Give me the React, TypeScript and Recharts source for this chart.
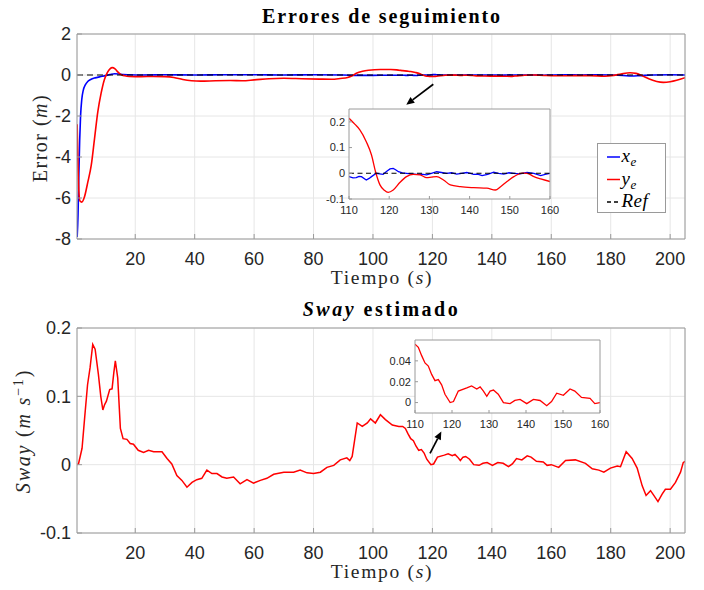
import React from 'react';
import { LineChart, Line, XAxis, YAxis, CartesianGrid, ReferenceLine, Legend } from 'recharts';

type P = [number, number];

// ---------- tick labels ----------
const timeTicks = [20, 40, 60, 80, 100, 120, 140, 160, 180, 200];
const errorTicks = [-8, -6, -4, -2, 0, 2];
const swayTicks = [-0.1, 0, 0.1, 0.2];
const insetTimeTicks = [110, 120, 130, 140, 150, 160];
const insetErrorTicks = [-0.1, 0, 0.1, 0.2];
const insetSwayTicks = [0, 0.02, 0.04];

// ---------- series: x_e (blue) ----------
const xeSeries: P[] = [
  [0.45, -7.9], [0.75, -6.8], [1.0, -5.0], [1.3, -3.2], [1.6, -2.0], [2.0, -1.2], [2.5, -0.75], [3.2, -0.48],
  [4, -0.32], [5, -0.22], [6.5, -0.14], [8, -0.09], [10, -0.03], [11.5, 0.02], [13, 0.06], [14.5, 0.05],
  [16, 0.02], [18, 0.01], [22, 0], [30, 0.01], [40, 0], [50, 0.01], [60, 0.01], [70, 0], [80, 0.01], [90, 0],
  [95, -0.02], [100, -0.02], [105, -0.01],
  [110, -0.013], [111, -0.018], [111.8, -0.017], [112.5, -0.012], [113.1, -0.013], [114.3, -0.026], [115, -0.02],
  [115.6, -0.013], [116.8, 0], [117.6, -0.002], [118.5, -0.004], [119.4, 0.008], [120.2, 0.017], [121, 0.019],
  [121.6, 0.014], [122.3, 0.006], [123.3, 0.002], [124.3, 0], [125.5, -0.002], [126.8, -0.004], [128, -0.003],
  [129.3, -0.006], [130.5, 0], [131.8, 0.006], [133, 0.003], [134.3, 0], [135.5, 0.002], [136.8, -0.003],
  [138, 0], [139.3, 0.003], [140.2, 0], [141, -0.004], [142, -0.003], [143.1, -0.009], [144.5, -0.004],
  [146, 0.004], [147.2, 0], [148.5, -0.003], [149.8, 0.002], [151, 0], [152.5, -0.002], [154.3, 0.003],
  [156, 0], [157.7, -0.009], [158.8, -0.004], [160, 0],
  [165, 0.01], [170, 0], [175, 0.01], [180, 0], [184, -0.02], [187, -0.05], [190, -0.03], [194, 0], [200, 0.01], [205, 0],
];

// ---------- series: y_e (red) ----------
const yeSeries: P[] = [
  [0.45, -2.4], [0.7, -4.2], [1.0, -5.6], [1.4, -6.15], [2.0, -6.2], [2.9, -5.95], [4.0, -5.25], [5.2, -4.4],
  [6.3, -3.1], [7.4, -1.8], [8.5, -0.9], [9.6, -0.23], [10.6, 0.12], [11.5, 0.3], [12.3, 0.36], [13.2, 0.3],
  [14.2, 0.14], [15.2, 0.02], [16.5, -0.04], [18, -0.07], [22, -0.08], [26, -0.07], [30, -0.08], [33, -0.12],
  [36, -0.22], [39, -0.28], [42, -0.3], [47, -0.28], [52, -0.27], [56, -0.28], [60, -0.24], [65, -0.18],
  [70, -0.16], [76, -0.18], [82, -0.2], [86, -0.21], [89, -0.17], [91.5, -0.12], [93, -0.04], [94.6, 0.1],
  [96.5, 0.18], [98.5, 0.23], [102.5, 0.27], [106, 0.27], [108.5, 0.24],
  [110, 0.214], [111.5, 0.19], [112.7, 0.169], [114.3, 0.123], [115.6, 0.071], [116.6, 0.006], [117.7, -0.045],
  [118.8, -0.066], [119.75, -0.074], [121, -0.065], [122.7, -0.035], [124.3, -0.013], [126, -0.004],
  [127.7, -0.006], [129.3, -0.017], [130.5, -0.015], [131.8, -0.013], [133.5, -0.026], [135.2, -0.045],
  [137.7, -0.052], [141, -0.056], [144.3, -0.058], [146.4, -0.065], [147.7, -0.052], [149.3, -0.032],
  [151, -0.013], [153.1, 0.001], [154.3, 0], [156, -0.013], [157.7, -0.022], [160, -0.032],
  [163, -0.04], [168, -0.03], [173, -0.03], [178, -0.06], [181, -0.02], [183.5, 0.05], [186.5, 0.11],
  [188.5, 0.08], [190.5, -0.03], [193, -0.2], [195.5, -0.32], [197.7, -0.36], [200, -0.33], [202.2, -0.26], [205, -0.13],
];

// ---------- series: estimated sway ----------
const swaySeries: P[] = [
  [0.4, 0], [0.9, 0.001], [2.1, 0.024], [3, 0.07], [3.95, 0.117], [4.8, 0.142], [5.7, 0.176], [6.5, 0.169],
  [7.6, 0.132], [8.4, 0.1], [9.1, 0.08], [9.7, 0.088], [10.3, 0.093], [11.4, 0.11], [12.2, 0.111], [12.8, 0.135],
  [13.3, 0.152], [14.1, 0.127], [15, 0.053], [15.9, 0.038], [17.2, 0.037], [18.3, 0.031], [19.4, 0.03],
  [21, 0.021], [22.8, 0.018], [24.5, 0.021], [26.2, 0.019], [27.9, 0.019], [29, 0.019], [30.7, 0.009],
  [32.3, 0.001], [34, -0.016], [35.7, -0.023], [37.4, -0.033], [39.1, -0.026], [40.7, -0.022], [42.4, -0.02],
  [44.1, -0.008], [45.8, -0.013], [47.5, -0.013], [49.2, -0.018], [50.8, -0.02], [53.1, -0.018], [55.3, -0.028],
  [57.6, -0.022], [59.8, -0.027], [62.1, -0.023], [64.3, -0.02], [66.6, -0.014], [70, -0.011], [73.3, -0.011],
  [75.5, -0.008], [77.8, -0.012], [80, -0.013], [82.3, -0.011], [84.5, -0.004], [86.8, -0.001], [89, 0.007],
  [91.2, 0.01], [92.2, 0.006], [93, 0.012], [94.7, 0.061], [96.4, 0.056], [98.1, 0.061], [99.2, 0.067],
  [100.8, 0.061], [102.5, 0.073], [104.2, 0.066], [106.5, 0.058], [108.7, 0.056],
  [110, 0.056], [110.9, 0.053], [111.8, 0.045], [112.7, 0.038], [113.6, 0.035], [114.5, 0.027], [115.4, 0.021],
  [116.3, 0.022], [117.2, 0.017], [118.1, 0.008], [119.5, 0], [120.4, 0.001], [121.7, 0.011], [124, 0.014],
  [125.3, 0.016], [126.7, 0.013], [127.6, 0.015], [128.5, 0.011], [129.4, 0.006], [130.3, 0.011], [131.2, 0.012],
  [132.5, 0.008], [133.9, 0], [135.7, -0.001], [137, 0.002], [138.4, 0.003], [140.2, -0.001], [142, 0.003],
  [143.8, 0.002], [145.6, -0.003], [146.9, 0.001], [148.3, 0.009], [150.1, 0.007], [151.9, 0.013], [153.2, 0.011],
  [155, 0.005], [157.3, 0.004], [158.6, -0.001], [160, 0],
  [162.5, -0.004], [164.8, 0.006], [168.1, 0.007], [171.5, 0.002], [173.8, -0.006], [176, -0.008], [177.7, -0.011],
  [179.9, -0.005], [182.2, -0.002], [183.3, -0.003], [185.2, 0.019], [187.2, 0.009], [188.9, -0.005],
  [190.6, -0.031], [191.9, -0.045], [193.4, -0.038], [194.5, -0.045], [195.9, -0.054], [197.3, -0.043],
  [198.4, -0.036], [200.1, -0.036], [201.8, -0.026], [203.5, -0.011], [204.4, 0.003], [205, 0.005],
];

// ---------- annotation arrows (data coordinates) ----------
const arrowTop: P[] = [[120.3, -0.45], [111.2, -1.45]];
const arrowBottom: P[] = [[119.2, 0.0165], [123.0, 0.0486]];

const legendItems = [
  { base: 'x', sub: 'e', color: '#0000ff', dash: undefined as string | undefined },
  { base: 'y', sub: 'e', color: '#ff0000', dash: undefined as string | undefined },
  { base: 'Ref', sub: '', color: '#000000', dash: '4 3' },
];

const timeDomain: [number, number] = [0.4, 205];

const toRows = (s: P[]) => s.map(([t, v]) => ({ t, v }));
const inWindow = (s: P[]) => toRows(s.filter(([t]) => t >= 110 && t <= 160));

const xeData = toRows(xeSeries);
const yeData = toRows(yeSeries);
const swayData = toRows(swaySeries);
const xeInset = inWindow(xeSeries);
const yeInset = inWindow(yeSeries);
const swayInset = inWindow(swaySeries);

const AX = '#9a9a9a';
const SANS = 'Liberation Sans, Arial, Helvetica, sans-serif';
const SERIF = 'Liberation Serif, DejaVu Serif, Times New Roman, serif';
const TICK = { fill: '#262626', fontSize: 18, fontFamily: SANS };
const TICK_SMALL = { fill: '#262626', fontSize: 11, fontFamily: SANS };
const serif = (ls: number) => ({ fontFamily: SERIF, letterSpacing: `${ls}px` });

const Arrow = (props: any) => {
  const { x1, y1, x2, y2 } = props;
  const ang = Math.atan2(y2 - y1, x2 - x1);
  const L = 8;
  const W = 3.6;
  const bx = x2 - L * Math.cos(ang);
  const by = y2 - L * Math.sin(ang);
  const p1x = bx + W * Math.sin(ang);
  const p1y = by - W * Math.cos(ang);
  const p2x = bx - W * Math.sin(ang);
  const p2y = by + W * Math.cos(ang);
  return (
    <g>
      <line x1={x1} y1={y1} x2={bx} y2={by} stroke="#000" strokeWidth={1.7} />
      <polygon points={`${x2},${y2} ${p1x},${p1y} ${p2x},${p2y}`} fill="#000" />
    </g>
  );
};

const LegendBox = () => (
  <svg width={70} height={71} style={{ display: 'block' }}>
    <rect x={0.5} y={0.5} width={68} height={69} fill="#fff" stroke={AX} strokeWidth={1} />
    {legendItems.map((it, i) => {
      const cy = 14 + i * 22.5;
      return (
        <g key={it.base}>
          <line x1={10} y1={cy} x2={23} y2={cy} stroke={it.color} strokeWidth={1.5} strokeDasharray={it.dash} />
          <text x={24.5} y={cy + 5} style={serif(0.5)} fontSize={19} fontStyle="italic" fill="#000">
            {it.base}
            {it.sub ? (
              <tspan dy={4} fontSize={13}>
                {it.sub}
              </tspan>
            ) : null}
          </text>
        </g>
      );
    })}
  </svg>
);

export default function App() {
  return (
    <div style={{ position: 'absolute', left: 0, top: 0, width: 704, height: 590, background: '#fff' }}>
      {/* ---------- top: tracking errors ---------- */}
      <div style={{ position: 'absolute', left: 0, top: 0 }}>
        <LineChart width={704} height={294} margin={{ top: 33, right: 18, bottom: 25, left: 27 }}>
          <CartesianGrid stroke="#e6e6e6" strokeWidth={1} />
          <XAxis dataKey="t" type="number" domain={timeDomain} ticks={timeTicks} interval={0} allowDataOverflow
            tickSize={-5} tickMargin={18} height={30} stroke={AX} tick={TICK} />
          <XAxis xAxisId="top" orientation="top" type="number" domain={timeDomain} ticks={timeTicks} interval={0}
            allowDataOverflow tickSize={-5} height={1} stroke={AX} tick={false} />
          <YAxis type="number" domain={[-8, 2]} ticks={errorTicks} interval={0} allowDataOverflow
            tickSize={-5} tickMargin={11} width={50} stroke={AX} tick={TICK} />
          <YAxis yAxisId="right" orientation="right" type="number" domain={[-8, 2]} ticks={errorTicks} interval={0}
            allowDataOverflow tickSize={-5} width={1} stroke={AX} tick={false} />
          <Line data={xeData} dataKey="v" name="x_e" type="monotone" stroke="#0000ff" strokeWidth={1.6}
            dot={false} isAnimationActive={false} />
          <Line data={yeData} dataKey="v" name="y_e" type="monotone" stroke="#ff0000" strokeWidth={1.6}
            dot={false} isAnimationActive={false} />
          <ReferenceLine y={0} stroke="#000" strokeWidth={1.2} strokeDasharray="6 4" />
          <ReferenceLine segment={[{ x: arrowTop[0][0], y: arrowTop[0][1] }, { x: arrowTop[1][0], y: arrowTop[1][1] }]}
            shape={Arrow} ifOverflow="visible" />
          <Legend layout="vertical" align="center" verticalAlign="middle" content={() => <LegendBox />}
            wrapperStyle={{ position: 'absolute', left: 597, top: 143, width: 70, height: 71 }} />
          <text x={382} y={22.5} textAnchor="middle" style={serif(1.9)} fontWeight="bold" fontSize={20} fill="#000">
            Errores de seguimiento
          </text>
          <text x={382} y={284} textAnchor="middle" style={serif(1.7)} fontSize={19.5} fill="#262626">
            Tiempo (<tspan fontStyle="italic">s</tspan>)
          </text>
          <text x={46.7} y={138} transform="rotate(-90 46.7 138)" textAnchor="middle" style={serif(1.5)}
            fontSize={20} fill="#262626">
            Error (<tspan fontStyle="italic">m</tspan>)
          </text>
        </LineChart>
      </div>

      {/* ---------- bottom: estimated sway ---------- */}
      <div style={{ position: 'absolute', left: 0, top: 294 }}>
        <LineChart width={704} height={296} margin={{ top: 33, right: 18, bottom: 27, left: 27 }}>
          <CartesianGrid stroke="#e6e6e6" strokeWidth={1} />
          <XAxis dataKey="t" type="number" domain={timeDomain} ticks={timeTicks} interval={0} allowDataOverflow
            tickSize={-5} tickMargin={18} height={30} stroke={AX} tick={TICK} />
          <XAxis xAxisId="top" orientation="top" type="number" domain={timeDomain} ticks={timeTicks} interval={0}
            allowDataOverflow tickSize={-5} height={1} stroke={AX} tick={false} />
          <YAxis type="number" domain={[-0.1, 0.2]} ticks={swayTicks} interval={0} allowDataOverflow
            tickSize={-5} tickMargin={11} width={50} stroke={AX} tick={TICK} />
          <YAxis yAxisId="right" orientation="right" type="number" domain={[-0.1, 0.2]} ticks={swayTicks} interval={0}
            allowDataOverflow tickSize={-5} width={1} stroke={AX} tick={false} />
          <Line data={swayData} dataKey="v" name="Sway" type="linear" stroke="#ff0000" strokeWidth={1.5}
            dot={false} isAnimationActive={false} />
          <ReferenceLine segment={[{ x: arrowBottom[0][0], y: arrowBottom[0][1] }, { x: arrowBottom[1][0], y: arrowBottom[1][1] }]}
            shape={Arrow} ifOverflow="visible" />
          <text x={381.5} y={22} textAnchor="middle" style={serif(2.5)} fontWeight="bold" fontSize={20} fill="#000">
            <tspan fontStyle="italic">Sway</tspan> estimado
          </text>
          <text x={382} y={284} textAnchor="middle" style={serif(1.7)} fontSize={19.5} fill="#262626">
            Tiempo (<tspan fontStyle="italic">s</tspan>)
          </text>
          <text x={30} y={137} transform="rotate(-90 30 137)" textAnchor="middle" style={serif(1.8)}
            fontSize={20} fill="#262626">
            <tspan fontStyle="italic">Sway</tspan> (<tspan fontStyle="italic">m s</tspan>
            <tspan dy={-7} fontSize={14}>−1</tspan>
            <tspan dy={7}>)</tspan>
          </text>
        </LineChart>
      </div>

      {/* ---------- inset: errors 110-160 s ---------- */}
      <div style={{ position: 'absolute', left: 310, top: 100 }}>
        <LineChart width={250} height={125} margin={{ top: 8, right: 9, bottom: 6, left: 9 }}>
          <CartesianGrid horizontal={false} vertical={false} fill="#ffffff" fillOpacity={1} />
          <XAxis dataKey="t" type="number" domain={[110, 160]} ticks={insetTimeTicks} interval={0} allowDataOverflow
            tickSize={-3} tickMargin={10} height={20} stroke={AX} tick={TICK_SMALL} />
          <XAxis xAxisId="top" orientation="top" type="number" domain={[110, 160]} ticks={insetTimeTicks} interval={0}
            allowDataOverflow tickSize={-3} height={1} stroke={AX} tick={false} />
          <YAxis type="number" domain={[-0.1, 0.25]} ticks={insetErrorTicks} interval={0} allowDataOverflow
            tickSize={-3} tickMargin={7} width={30} stroke={AX} tick={TICK_SMALL} />
          <YAxis yAxisId="right" orientation="right" type="number" domain={[-0.1, 0.25]} ticks={insetErrorTicks}
            interval={0} allowDataOverflow tickSize={-3} width={1} stroke={AX} tick={false} />
          <Line data={xeInset} dataKey="v" type="linear" stroke="#0000ff" strokeWidth={1.3} dot={false}
            isAnimationActive={false} />
          <Line data={yeInset} dataKey="v" type="monotone" stroke="#ff0000" strokeWidth={1.3} dot={false}
            isAnimationActive={false} />
          <ReferenceLine y={0} stroke="#000" strokeWidth={1.1} strokeDasharray="5 3.5" />
        </LineChart>
      </div>

      {/* ---------- inset: sway 110-160 s ---------- */}
      <div style={{ position: 'absolute', left: 370, top: 330 }}>
        <LineChart width={240} height={110} margin={{ top: 9, right: 9, bottom: 7, left: 9 }}>
          <CartesianGrid horizontal={false} vertical={false} fill="#ffffff" fillOpacity={1} />
          <XAxis dataKey="t" type="number" domain={[110, 160]} ticks={insetTimeTicks} interval={0} allowDataOverflow
            tickSize={-3} tickMargin={10} height={20} stroke={AX} tick={TICK_SMALL} />
          <XAxis xAxisId="top" orientation="top" type="number" domain={[110, 160]} ticks={insetTimeTicks} interval={0}
            allowDataOverflow tickSize={-3} height={1} stroke={AX} tick={false} />
          <YAxis type="number" domain={[-0.01, 0.06]} ticks={insetSwayTicks} interval={0} allowDataOverflow
            tickSize={-3} tickMargin={7} width={36} stroke={AX} tick={TICK_SMALL} />
          <YAxis yAxisId="right" orientation="right" type="number" domain={[-0.01, 0.06]} ticks={insetSwayTicks}
            interval={0} allowDataOverflow tickSize={-3} width={1} stroke={AX} tick={false} />
          <Line data={swayInset} dataKey="v" type="linear" stroke="#ff0000" strokeWidth={1.3} dot={false}
            isAnimationActive={false} />
        </LineChart>
      </div>
    </div>
  );
}
